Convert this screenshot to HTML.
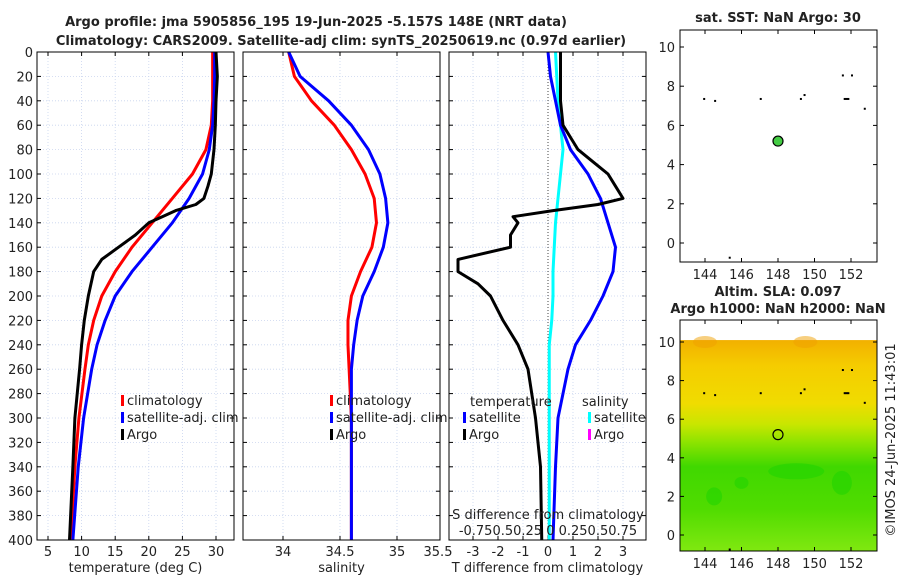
<!DOCTYPE html>
<html><head><meta charset="utf-8"><style>
body{margin:0;background:#fff;}
svg{display:block;font-family:"DejaVu Sans","Liberation Sans",sans-serif;}
</style></head><body>
<svg id="c" width="900" height="580" viewBox="0 0 900 580"></svg>
<script>
const depths=[0,20,40,60,80,100,110,120,125,130,135,140,150,160,170,180,200,220,240,260,300,340,400];
const tempArgo=[30,30.2,30,29.9,29.7,29.3,28.8,28.2,27,24,22,20,18,15.5,13,11.8,11,10.4,10,9.7,9,8.7,8.2];
const cDepths=[0,20,40,60,80,100,120,140,160,180,200,220,240,260,300,340,400];
const tempClim=[29.5,29.5,29.5,29.3,28.5,26.5,23.5,20.5,17.5,15,13,11.8,11,10.5,9.6,9,8.4];
const tempSat=[29.8,29.8,29.7,29.5,29,28,26,23.5,20.5,17.5,15,13.5,12.3,11.5,10.3,9.5,8.7];
const salClim=[34.05,34.1,34.25,34.45,34.6,34.72,34.8,34.82,34.78,34.68,34.6,34.57,34.57,34.58,34.6,34.6,34.6];
const salSat=[34.05,34.15,34.4,34.6,34.75,34.85,34.9,34.92,34.88,34.8,34.7,34.65,34.62,34.6,34.6,34.6,34.6];
const tdDepths=[0,20,40,60,80,90,100,110,120,125,130,135,140,150,160,170,180,190,200,220,240,260,300,340,400];
const tdArgo=[0.5,0.5,0.5,0.6,1.2,1.8,2.4,2.7,3,2,0.2,-1.4,-1.2,-1.5,-1.5,-3.6,-3.6,-2.8,-2.3,-1.8,-1.2,-0.8,-0.5,-0.3,-0.25];
const tdSat=[0,0.1,0.3,0.5,0.9,1.6,2.1,2.4,2.7,2.6,2.2,1.7,1.1,0.8,0.4,0.3,0.2];
const sdSat=[0.3,0.35,0.4,0.5,0.6,0.5,0.4,0.3,0.25,0.2,0.2,0.15,0.05,0.05,0.05,0.05,0.05];
const depthTicks=[0,20,40,60,80,100,120,140,160,180,200,220,240,260,280,300,320,340,360,380,400];
const tTicks=[5,10,15,20,25,30];
const sTicks=[34,34.5,35];
const dTicks=[-3,-2,-1,0,1,2,3];
const mapX=[144,146,148,150,152];
const mapY=[0,2,4,6,8,10];
const floatLon=148, floatLat=5.2;
const dotsLon=[143.9,144.5,147,149.2,149.4,151.5,151.6,151.7,151.8,152,152.7,145.3];
const dotsLat=[7.4,7.3,7.4,7.4,7.6,8.6,7.4,7.4,7.4,8.6,6.9,-0.7];

const S=document.getElementById('c');const NS='http://www.w3.org/2000/svg';
function el(t,a,p){const e=document.createElementNS(NS,t);for(const k in a)e.setAttribute(k,a[k]);(p||S).appendChild(e);return e;}
function txt(x,y,s,a,p){const e=el('text',Object.assign({x:x,y:y,'font-size':13,fill:'#222'},a||{}),p);e.textContent=s;return e;}
const T=52,B=540;
const yD=d=>T+(d/400)*(B-T);
function lin(d0,d1,r0,r1){return v=>r0+(v-d0)/(d1-d0)*(r1-r0);}
function panel(name,L,R,xs,xt,xlab,ylabels){
 const g=el('g',{},S);
 
 
 el('rect',{x:L,y:T,width:R-L,height:B-T,fill:'#fff'},g);
 depthTicks.forEach(d=>{el('line',{x1:L,x2:R,y1:yD(d),y2:yD(d),stroke:'#c8d4ee','stroke-dasharray':'1,2','stroke-width':0.8},g);
  el('line',{x1:L,x2:L+4,y1:yD(d),y2:yD(d),stroke:'#000'},g);el('line',{x1:R-4,x2:R,y1:yD(d),y2:yD(d),stroke:'#000'},g);
  if(ylabels){const t=txt(L-4,yD(d)+5,String(d),{'text-anchor':'end'},g);}});
 xt.forEach(v=>{const x=xs(v);if(x<L||x>R)return;el('line',{x1:x,x2:x,y1:T,y2:B,stroke:'#c8d4ee','stroke-dasharray':'1,2','stroke-width':0.8},g);
  el('line',{x1:x,x2:x,y1:B-4,y2:B,stroke:'#000'},g);el('line',{x1:x,x2:x,y1:T,y2:T+4,stroke:'#000'},g);
  const t=txt(x,556,String(v),{'text-anchor':'middle'},g);});
 const xl=txt((L+R)/2,572,xlab,{'text-anchor':'middle'},g);
 return g;
}
function line(g,name,xs,vals,ds,col,w){
 const p=el('polyline',{points:vals.map((v,i)=>xs(v)+','+yD(ds[i])).join(' '),fill:'none',stroke:col,'stroke-width':w||3,'stroke-linejoin':'round'},g);
 
 
}
function frame(g,L,R){el('rect',{x:L,y:T,width:R-L,height:B-T,fill:'none',stroke:'#000','stroke-width':1},g);}
function legItem(g,x,y,col,label){el('rect',{x:x,y:y-10,width:3,height:11,fill:col},g);const t=txt(x+6,y,label,{},g);}

// Panel 1
const x1=lin(5,30,48,216);
const g1=panel('temperature-panel',37,234,x1,tTicks,'temperature (deg C)',true);
line(g1,'temperature-climatology-line',x1,tempClim,cDepths,'#f00');
line(g1,'temperature-satellite-line',x1,tempSat,cDepths,'#00f');
line(g1,'temperature-argo-line',x1,tempArgo,depths,'#000');
legItem(g1,121,405,'#f00','climatology');legItem(g1,121,422,'#00f','satellite-adj. clim');legItem(g1,121,439,'#000','Argo');
frame(g1,37,234);
// Panel 2
const x2=lin(34,35,283,397);
const g2=panel('salinity-panel',243,440,x2,sTicks,'salinity',false);
txt(438,556,'35.5',{'text-anchor':'middle'},g2);
line(g2,'salinity-climatology-line',x2,salClim,cDepths,'#f00');
line(g2,'salinity-satellite-line',x2,salSat,cDepths,'#00f');
legItem(g2,330,405,'#f00','climatology');legItem(g2,330,422,'#00f','satellite-adj. clim');legItem(g2,330,439,'#000','Argo');
frame(g2,243,440);
// Panel 3
const x3=lin(0,1,548,573);
const g3=panel('difference-panel',449,646,x3,dTicks,'T difference from climatology',false);
el('line',{x1:548,x2:548,y1:T,y2:B,stroke:'#444','stroke-dasharray':'1,2'},g3);
line(g3,'salinity-diff-satellite-line',x3,sdSat,cDepths,'#0ff');
line(g3,'temp-diff-satellite-line',x3,tdSat,cDepths,'#00f');
line(g3,'temp-diff-argo-line',x3,tdArgo,tdDepths,'#000');
txt(470,406,'temperature',{},g3);txt(582,406,'salinity',{},g3);
legItem(g3,463,422,'#00f','satellite');legItem(g3,463,439,'#000','Argo');
legItem(g3,588,422,'#0ff','satellite');legItem(g3,588,439,'#f0f','Argo');
txt(548,519,'S difference from climatology',{'text-anchor':'middle'},g3);
txt(548,535,'-0.750.50.25 0  0.250.50.75',{'text-anchor':'middle'},g3);
frame(g3,449,646);

// Titles
const t1=txt(316,26,'Argo profile: jma 5905856_195 19-Jun-2025 -5.157S 148E (NRT data)',{'text-anchor':'middle','font-weight':'bold'});

const t2=txt(341,45,'Climatology: CARS2009. Satellite-adj clim: synTS_20250619.nc (0.97d earlier)',{'text-anchor':'middle','font-weight':'bold'});


// Maps
function map(name,L,Tp,R,Bp,y10,y0,heat){
 const g=el('g',{},S);
 
 
 const mx=lin(144,152,L+25,L+171), my=lin(0,10,y0,y10);
 if(heat){
  const defs=el('defs',{},g);const lg=el('linearGradient',{id:'hg',x1:0,y1:0,x2:0,y2:1},defs);
  [['0','#f2b000'],['0.12','#f5cc00'],['0.3','#f0dc00'],['0.4','#c8e600'],['0.48','#90e400'],['0.6','#40d800'],['0.8','#50dc00'],['1','#80e810']].forEach(s=>el('stop',{offset:s[0],'stop-color':s[1]},lg));
  el('rect',{x:L,y:my(10.1),width:R-L,height:Bp-my(10.1),fill:'url(#hg)'},g);
  [[149,3.3,28,8],[144.5,2,8,9],[151.5,2.7,10,12],[146,2.7,7,6]].forEach(b=>el('ellipse',{cx:mx(b[0]),cy:my(b[1]),rx:b[2],ry:b[3],fill:'#22d400',opacity:0.6},g));
  [[144,10,12,6],[149.5,10,12,6]].forEach(b=>el('ellipse',{cx:mx(b[0]),cy:my(b[1]),rx:b[2],ry:b[3],fill:'#f0a000',opacity:0.5},g));
 }
 el('rect',{x:L,y:Tp,width:R-L,height:Bp-Tp,fill:'none',stroke:'#000'},g);
 mapX.forEach(v=>{const x=mx(v);el('line',{x1:x,x2:x,y1:Bp-4,y2:Bp,stroke:'#000'},g);el('line',{x1:x,x2:x,y1:Tp,y2:Tp+4,stroke:'#000'},g);txt(x,Bp+17,String(v),{'text-anchor':'middle'},g);});
 mapY.forEach(v=>{const y=my(v);el('line',{x1:L,x2:L+4,y1:y,y2:y,stroke:'#000'},g);el('line',{x1:R-4,x2:R,y1:y,y2:y,stroke:'#000'},g);txt(L-5,y+5,String(v),{'text-anchor':'end'},g);});
 dotsLon.forEach((lo,i)=>{const d=el('rect',{x:mx(lo),y:my(dotsLat[i]),width:2,height:2,fill:'#000'},g);});
 const c=el('circle',{cx:mx(floatLon),cy:my(floatLat),r:5,fill:heat?'none':'#4c4',stroke:'#000','stroke-width':1.2},g);
 
 return g;
}
const m1=map('sst-map',680,30,877,262,47,243,false);
const mt1=txt(778,22,'sat. SST: NaN Argo: 30',{'text-anchor':'middle','font-weight':'bold'});

const m2=map('sla-map',680,320,877,551,342,535,true);
const mt2=txt(778,296,'Altim. SLA: 0.097',{'text-anchor':'middle','font-weight':'bold'});

const mt3=txt(778,313,'Argo h1000: NaN h2000: NaN',{'text-anchor':'middle','font-weight':'bold'});

const cp=txt(0,0,'©IMOS 24-Jun-2025 11:43:01',{'text-anchor':'middle',transform:'translate(895,440) rotate(-90)'});

</script>
</body></html>
